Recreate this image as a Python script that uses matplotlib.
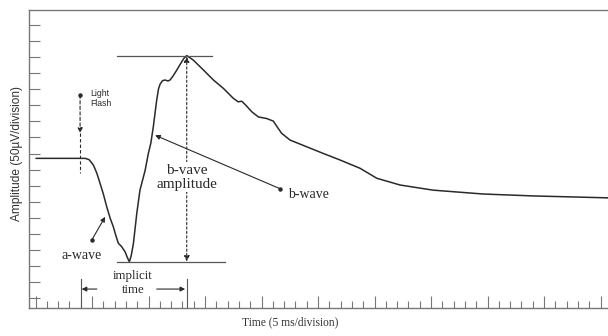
import matplotlib
matplotlib.use("Agg")
from matplotlib import pyplot as plt
from matplotlib.ticker import MultipleLocator, NullFormatter

# ERG trace, time in ms, amplitude in uV
TIME = [0.2, 10.8, 21.9, 23.7, 25.6, 27.1, 28.5, 30.0, 31.5, 33.0, 34.4,
        35.6, 36.6, 38.1, 39.6, 40.7, 41.5, 42.3, 43.3, 44.8, 46.2, 48.5,
        49.9, 51.0, 52.1, 53.6, 54.4, 55.1, 56.2, 57.3, 58.6, 59.5, 60.8,
        62.5, 63.5, 64.7, 65.7, 66.9, 69.8, 74.3, 78.7, 83.1, 87.5, 89.7,
        91.2, 92.7, 95.7, 98.6, 102.3, 105.2, 107.4, 108.9, 112.6, 120.0,
        127.4, 134.7, 143.6, 151.0, 161.3, 175.9, 198.0, 220.1, 253.3]
AMPLITUDE = [435, 435, 435, 431, 414, 389, 358, 324, 284, 249, 222,
             193, 171, 160, 144, 125, 113, 131, 170, 264, 336, 398,
             450, 482, 533, 616, 651, 666, 677, 679, 676, 679, 691,
             710, 722, 736, 747, 755, 741, 710, 679, 653, 622, 611,
             613, 603, 580, 564, 559, 551, 528, 513, 492, 471,
             450, 430, 404, 373, 352, 336, 324, 318, 312]

PEAK = 754
TROUGH = 112
FLASH_T = 19.7
PEAK_T = 66.9

INK = "#2a2a2a"
AXIS = "#777777"
SERIF = "Liberation Serif"
SANS = "Liberation Sans"


def main():
    fig = plt.figure(figsize=(6.08, 3.36), dpi=100)
    ax = fig.add_axes([29 / 608, 28 / 336, 579 / 608, 298 / 336])

    ax.plot(TIME, AMPLITUDE, color=INK, linewidth=1.1,
            solid_joinstyle="round", solid_capstyle="round")

    ax.set_xlim(-2.9, 253.3)
    ax.set_ylim(-31, 897)
    ax.xaxis.set_major_locator(MultipleLocator(25))
    ax.xaxis.set_minor_locator(MultipleLocator(5))
    ax.set_yticks(range(0, 851, 50))
    ax.xaxis.set_major_formatter(NullFormatter())
    ax.yaxis.set_major_formatter(NullFormatter())
    ax.tick_params(axis="x", which="major", direction="in", length=9, width=0.8, color=AXIS)
    ax.tick_params(axis="x", which="minor", direction="in", length=5, width=0.8, color=AXIS)
    ax.tick_params(axis="y", which="major", direction="in", length=8, width=0.8, color=AXIS)
    for side in ["left", "top", "bottom"]:
        ax.spines[side].set_color(AXIS)
        ax.spines[side].set_linewidth(1.0)
    ax.spines["right"].set_visible(False)

    # light flash marker
    ax.plot([FLASH_T, FLASH_T], [514, 389], color=INK, linewidth=0.8, linestyle=(0, (3, 2)))
    ax.plot([FLASH_T], [632], marker="o", markersize=2.2, color=INK)
    ax.annotate("", xy=(FLASH_T, 514), xytext=(FLASH_T, 632),
                arrowprops=dict(arrowstyle="-|>", color=INK, lw=0.8, linestyle=(0, (3, 2)),
                                mutation_scale=7, shrinkA=0, shrinkB=0))
    ax.text(24.1, 622, "Light\nFlash", family=SANS, fontsize=6.2, color=INK,
            ha="left", va="center", linespacing=1.2)

    # peak / trough guide lines
    ax.plot([35.9, 78.0], [PEAK, PEAK], color="#555555", linewidth=0.9)
    ax.plot([35.9, 83.8], [TROUGH, TROUGH], color="#555555", linewidth=0.9)

    # b-wave amplitude
    ax.annotate("", xy=(PEAK_T, PEAK - 2), xytext=(PEAK_T, TROUGH + 2),
                arrowprops=dict(arrowstyle="<|-|>", color=INK, lw=0.8, linestyle=(0, (2, 2)),
                                mutation_scale=8, shrinkA=0, shrinkB=0))
    ax.text(PEAK_T, 376, "b-vave\namplitude", family=SERIF, fontsize=11, color=INK,
            ha="center", va="center", linespacing=1.15,
            bbox=dict(facecolor="white", edgecolor="none", pad=1))

    # b-wave pointer
    ax.plot([108.0], [341], marker="o", markersize=2.2, color=INK)
    ax.annotate("", xy=(52.9, 507), xytext=(108.0, 341),
                arrowprops=dict(arrowstyle="-|>", color=INK, lw=0.8,
                                mutation_scale=7, shrinkA=0, shrinkB=0))
    ax.text(111.7, 324, "b-wave", family=SERIF, fontsize=10, color=INK, ha="left", va="center")

    # a-wave pointer
    ax.plot([24.9], [181], marker="o", markersize=2.2, color=INK)
    ax.annotate("", xy=(30.8, 253), xytext=(24.9, 181),
                arrowprops=dict(arrowstyle="-|>", color=INK, lw=0.8,
                                mutation_scale=7, shrinkA=0, shrinkB=0))
    ax.text(11.6, 134, "a-wave", family=SERIF, fontsize=10, color=INK, ha="left", va="center")

    # implicit time bracket
    for t in [20.0, PEAK_T]:
        ax.plot([t, t], [59, -31], color="#555555", linewidth=0.8, clip_on=False)
    ax.annotate("", xy=(20.4, 28), xytext=(27.1, 28),
                arrowprops=dict(arrowstyle="-|>", color=INK, lw=0.8, mutation_scale=7,
                                shrinkA=0, shrinkB=0))
    ax.annotate("", xy=(66.2, 28), xytext=(53.6, 28),
                arrowprops=dict(arrowstyle="-|>", color=INK, lw=0.8, mutation_scale=7,
                                shrinkA=0, shrinkB=0))
    ax.text(43.1, 69, "implicit", family=SERIF, fontsize=9.3, color=INK, ha="center", va="center")
    ax.text(43.1, 25, "time", family=SERIF, fontsize=9.3, color=INK, ha="center", va="center")

    fig.text(16.7 / 608, 1 - 153.5 / 336, "Amplitude (50\u00b5V/division)", family=SANS,
             fontsize=8.6, color="#333333", rotation=90, ha="center", va="center")
    fig.text(290 / 608, 1 - 322 / 336, "Time (5 ms/division)", family=SERIF,
             fontsize=8.3, color="#333333", ha="center", va="center")

    fig.savefig("out.png", dpi=100, facecolor="white")


if __name__ == "__main__":
    main()
